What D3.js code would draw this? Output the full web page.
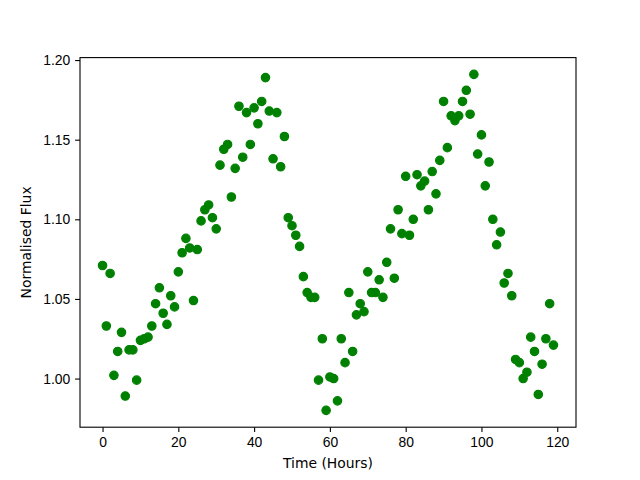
<!DOCTYPE html>
<html>
<head>
<meta charset="utf-8">
<script src="https://cdn.jsdelivr.net/npm/d3@7"></script>
<style>
  body { margin: 0; background: #fff; }
  svg { display: block; font-family: "DejaVu Sans", sans-serif; }
  .axis text { font-size: 13.9px; fill: #000; }
  .axis path, .axis line { stroke: #000; stroke-width: 1.1; }
</style>
</head>
<body>
<script>
'use strict';

// time in hours, one reading per hour
var hours = d3.range(0, 120);

// normalised flux readings
var flux = [
  1.071, 1.033, 1.066, 1.002, 1.017, 1.029, 0.989, 1.018, 1.018, 0.999,
  1.024, 1.025, 1.026, 1.033, 1.047, 1.057, 1.041, 1.034, 1.052, 1.045,
  1.067, 1.079, 1.088, 1.082, 1.049, 1.081, 1.099, 1.106, 1.109, 1.101,
  1.094, 1.134, 1.144, 1.147, 1.114, 1.132, 1.171, 1.139, 1.167, 1.147,
  1.170, 1.160, 1.174, 1.189, 1.168, 1.138, 1.167, 1.133, 1.152, 1.101,
  1.096, 1.090, 1.083, 1.064, 1.054, 1.051, 1.051, 0.999, 1.025, 0.980,
  1.001, 1.000, 0.986, 1.025, 1.010, 1.054, 1.017, 1.040, 1.047, 1.042,
  1.067, 1.054, 1.054, 1.062, 1.051, 1.073, 1.094, 1.063, 1.106, 1.091,
  1.127, 1.090, 1.100, 1.128, 1.121, 1.124, 1.106, 1.130, 1.116, 1.137,
  1.174, 1.145, 1.165, 1.162, 1.165, 1.174, 1.181, 1.166, 1.191, 1.141,
  1.153, 1.121, 1.136, 1.100, 1.084, 1.092, 1.060, 1.066, 1.052, 1.012,
  1.010, 1.000, 1.004, 1.026, 1.017, 0.990, 1.009, 1.025, 1.047, 1.021
];

var xTicks = [0, 20, 40, 60, 80, 100, 120];
var yTicks = [1.00, 1.05, 1.10, 1.15, 1.20];

var W = 640, H = 480;
var margin = {top: 57.6, right: 64, bottom: 52.8, left: 80},
    width = W - margin.left - margin.right,
    height = H - margin.top - margin.bottom;

var svg = d3.select("body").append("svg")
    .attr("width", W)
    .attr("height", H);

var g = svg.append("g")
    .attr("transform", "translate(" + margin.left + "," + margin.top + ")");

// matplotlib style 5% padding on both axes
var xr = d3.extent(hours), yr = d3.extent(flux);
var xpad = (xr[1] - xr[0]) * 0.05, ypad = (yr[1] - yr[0]) * 0.05;

var x = d3.scaleLinear()
    .domain([xr[0] - xpad, xr[1] + xpad])
    .range([0, width]);

var y = d3.scaleLinear()
    .domain([yr[0] - ypad, yr[1] + ypad])
    .range([height, 0]);

g.selectAll(".dot")
    .data(hours)
    .enter().append("circle")
    .attr("class", "dot")
    .attr("cx", function (d) { return x(d); })
    .attr("cy", function (d, i) { return y(flux[i]); })
    .attr("r", 4.2)
    .attr("fill", "#008000")
    .attr("stroke", "#008000")
    .attr("stroke-width", 1.2);

g.append("g")
    .attr("class", "axis")
    .attr("transform", "translate(0," + height + ")")
    .call(d3.axisBottom(x).tickValues(xTicks).tickFormat(d3.format("d"))
        .tickSizeInner(4.9).tickSizeOuter(0).tickPadding(4.9))
    .select(".domain").remove();

g.append("g")
    .attr("class", "axis")
    .call(d3.axisLeft(y).tickValues(yTicks).tickFormat(d3.format(".2f"))
        .tickSizeInner(4.9).tickSizeOuter(0).tickPadding(4.9))
    .select(".domain").remove();

// frame
g.append("rect")
    .attr("width", width)
    .attr("height", height)
    .attr("fill", "none")
    .attr("stroke", "#000")
    .attr("stroke-width", 1.1);

svg.append("text")
    .attr("x", margin.left + width / 2)
    .attr("y", 468)
    .attr("text-anchor", "middle")
    .attr("font-size", "13.9px")
    .text("Time (Hours)");

svg.append("text")
    .attr("transform", "translate(31," + (margin.top + height / 2) + ") rotate(-90)")
    .attr("text-anchor", "middle")
    .attr("font-size", "13.9px")
    .text("Normalised Flux");
</script>
</body>
</html>
